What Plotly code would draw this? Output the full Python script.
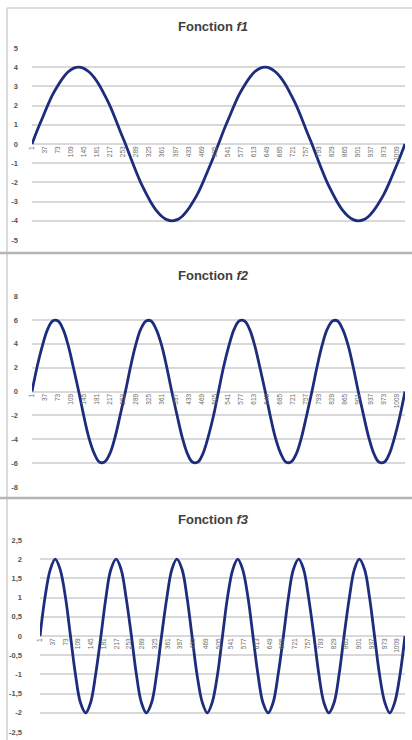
import plotly.graph_objects as go

# Category index of each sampled point (Excel category axis 1..1031)
categories = [1, 15, 30, 44, 58, 73, 87, 101, 115, 130, 144, 158, 173, 187, 201, 216,
              230, 244, 259, 273, 287, 301, 316, 330, 344, 359, 373, 387, 402, 416, 430,
              444, 459, 473, 487, 502, 516, 530, 545, 559, 573, 588, 602, 616, 630, 645,
              659, 673, 688, 702, 716, 731, 745, 759, 774, 788, 802, 816, 831, 845, 859,
              874, 888, 902, 917, 931, 945, 959, 974, 988, 1002, 1017, 1031]

f1_values = [0, 0.69, 1.37, 2.0, 2.57, 3.06, 3.46, 3.76, 3.94, 4.0, 3.94, 3.76, 3.46, 3.06,
             2.57, 2.0, 1.37, 0.69, 0, -0.69, -1.37, -2.0, -2.57, -3.06, -3.46, -3.76, -3.94,
             -4.0, -3.94, -3.76, -3.46, -3.06, -2.57, -2.0, -1.37, -0.69,
             0, 0.69, 1.37, 2.0, 2.57, 3.06, 3.46, 3.76, 3.94, 4.0, 3.94, 3.76, 3.46, 3.06,
             2.57, 2.0, 1.37, 0.69, 0, -0.69, -1.37, -2.0, -2.57, -3.06, -3.46, -3.76, -3.94,
             -4.0, -3.94, -3.76, -3.46, -3.06, -2.57, -2.0, -1.37, -0.69, 0]

f2_values = [0, 2.05, 3.86, 5.2, 5.91, 5.91, 5.2, 3.86, 2.05, 0, -2.05, -3.86, -5.2, -5.91, -5.91, -5.2, -3.86, -2.05,
             0, 2.05, 3.86, 5.2, 5.91, 5.91, 5.2, 3.86, 2.05, 0, -2.05, -3.86, -5.2, -5.91, -5.91, -5.2, -3.86, -2.05,
             0, 2.05, 3.86, 5.2, 5.91, 5.91, 5.2, 3.86, 2.05, 0, -2.05, -3.86, -5.2, -5.91, -5.91, -5.2, -3.86, -2.05,
             0, 2.05, 3.86, 5.2, 5.91, 5.91, 5.2, 3.86, 2.05, 0, -2.05, -3.86, -5.2, -5.91, -5.91, -5.2, -3.86, -2.05,
             0]

f3_values = [0, 1, 1.73, 2, 1.73, 1, 0, -1, -1.73, -2, -1.73, -1,
             0, 1, 1.73, 2, 1.73, 1, 0, -1, -1.73, -2, -1.73, -1,
             0, 1, 1.73, 2, 1.73, 1, 0, -1, -1.73, -2, -1.73, -1,
             0, 1, 1.73, 2, 1.73, 1, 0, -1, -1.73, -2, -1.73, -1,
             0, 1, 1.73, 2, 1.73, 1, 0, -1, -1.73, -2, -1.73, -1,
             0, 1, 1.73, 2, 1.73, 1, 0, -1, -1.73, -2, -1.73, -1,
             0]

x_tick_labels = ["1", "37", "73", "109", "145", "181", "217", "253", "289", "325", "361",
                 "397", "433", "469", "505", "541", "577", "613", "649", "685", "721",
                 "757", "793", "829", "865", "901", "937", "973", "1009"]

titles = ["Fonction <i>f1</i>", "Fonction <i>f2</i>", "Fonction <i>f3</i>"]

f1_yticks = [-5, -4, -3, -2, -1, 0, 1, 2, 3, 4, 5]
f1_ylabels = ["-5", "-4", "-3", "-2", "-1", "0", "1", "2", "3", "4", "5"]
f2_yticks = [-8, -6, -4, -2, 0, 2, 4, 6, 8]
f2_ylabels = ["-8", "-6", "-4", "-2", "0", "2", "4", "6", "8"]
f3_yticks = [-2.5, -2, -1.5, -1, -0.5, 0, 0.5, 1, 1.5, 2, 2.5]
f3_ylabels = ["-2,5", "-2", "-1,5", "-1", "-0,5", "0", "0,5", "1", "1,5", "2", "2,5"]

W, H = 412, 740
LINE = "#1d2c7c"
GRID = "#d9d9d9"

def py(px):
    return 1 - px / H

def pxx(px):
    return px / W

panels = [
    dict(vals=f1_values, x0=32, top=48, bot=240, yr=[-5, 5], tv=f1_yticks, tt=f1_ylabels, standoff=13, ty=27),
    dict(vals=f2_values, x0=32, top=296, bot=487, yr=[-8, 8], tv=f2_yticks, tt=f2_ylabels, standoff=13, ty=275),
    dict(vals=f3_values, x0=40, top=540, bot=732, yr=[-2.5, 2.5], tv=f3_yticks, tt=f3_ylabels, standoff=17, ty=519),
]

fig = go.Figure()
layout = dict(
    width=W, height=H, margin=dict(l=0, r=0, t=0, b=0),
    paper_bgcolor="white", plot_bgcolor="white", showlegend=False,
    font=dict(family="Liberation Sans, Arial, sans-serif", color="#595959"),
    annotations=[], shapes=[],
)

tickvals_x = [int(t) for t in x_tick_labels]

for i, p in enumerate(panels):
    n = "" if i == 0 else str(i + 1)
    fig.add_trace(go.Scatter(
        x=categories, y=p["vals"], mode="lines",
        line=dict(color=LINE, width=2.8, shape="spline", smoothing=1),
        xaxis="x" + n, yaxis="y" + n, hoverinfo="skip",
    ))
    ydom = [py(p["bot"]), py(p["top"])]
    layout["xaxis" + n] = dict(
        domain=[pxx(p["x0"]), pxx(405)], range=[1, 1031],
        anchor="free", position=(ydom[0] + ydom[1]) / 2,
        tickmode="array", tickvals=tickvals_x, ticktext=x_tick_labels,
        tickangle=-90, tickfont=dict(size=6.5, color="#6b6b6b"),
        showgrid=False, zeroline=False, showline=False, ticks="",
        automargin=False, fixedrange=True,
    )
    layout["yaxis" + n] = dict(
        domain=ydom, range=p["yr"], anchor="x" + n,
        tickmode="array", tickvals=p["tv"], ticktext=p["tt"],
        tickfont=dict(size=7.5, color="#555555", weight="bold"),
        ticklabelstandoff=p["standoff"],
        showgrid=True, gridcolor=GRID, gridwidth=1.6,
        zeroline=False, showline=False, ticks="",
        automargin=False, fixedrange=True,
    )
    layout["annotations"].append(dict(
        text="<b>" + titles[i] + "</b>", x=0.517, y=py(p["ty"]),
        xref="paper", yref="paper", xanchor="center", yanchor="middle",
        showarrow=False, font=dict(size=13, color="#404040"),
    ))

# chart frames
layout["shapes"] += [
    dict(type="line", xref="paper", yref="paper", x0=pxx(7), x1=1.0, y0=py(8), y1=py(8),
         line=dict(color="#d2d2d2", width=1.5)),
    dict(type="line", xref="paper", yref="paper", x0=pxx(7), x1=pxx(7), y0=py(8), y1=0,
         line=dict(color="#cfcfcf", width=1.5)),
    dict(type="line", xref="paper", yref="paper", x0=0, x1=1.0, y0=py(253), y1=py(253),
         line=dict(color="#b5b5b5", width=2.5)),
    dict(type="line", xref="paper", yref="paper", x0=0, x1=1.0, y0=py(498), y1=py(498),
         line=dict(color="#b5b5b5", width=2.5)),
]

fig.update_layout(**layout)
fig.write_html("out.html", config={"displayModeBar": False},
               post_script="document.body.style.margin='0';document.body.style.overflow='hidden';")
